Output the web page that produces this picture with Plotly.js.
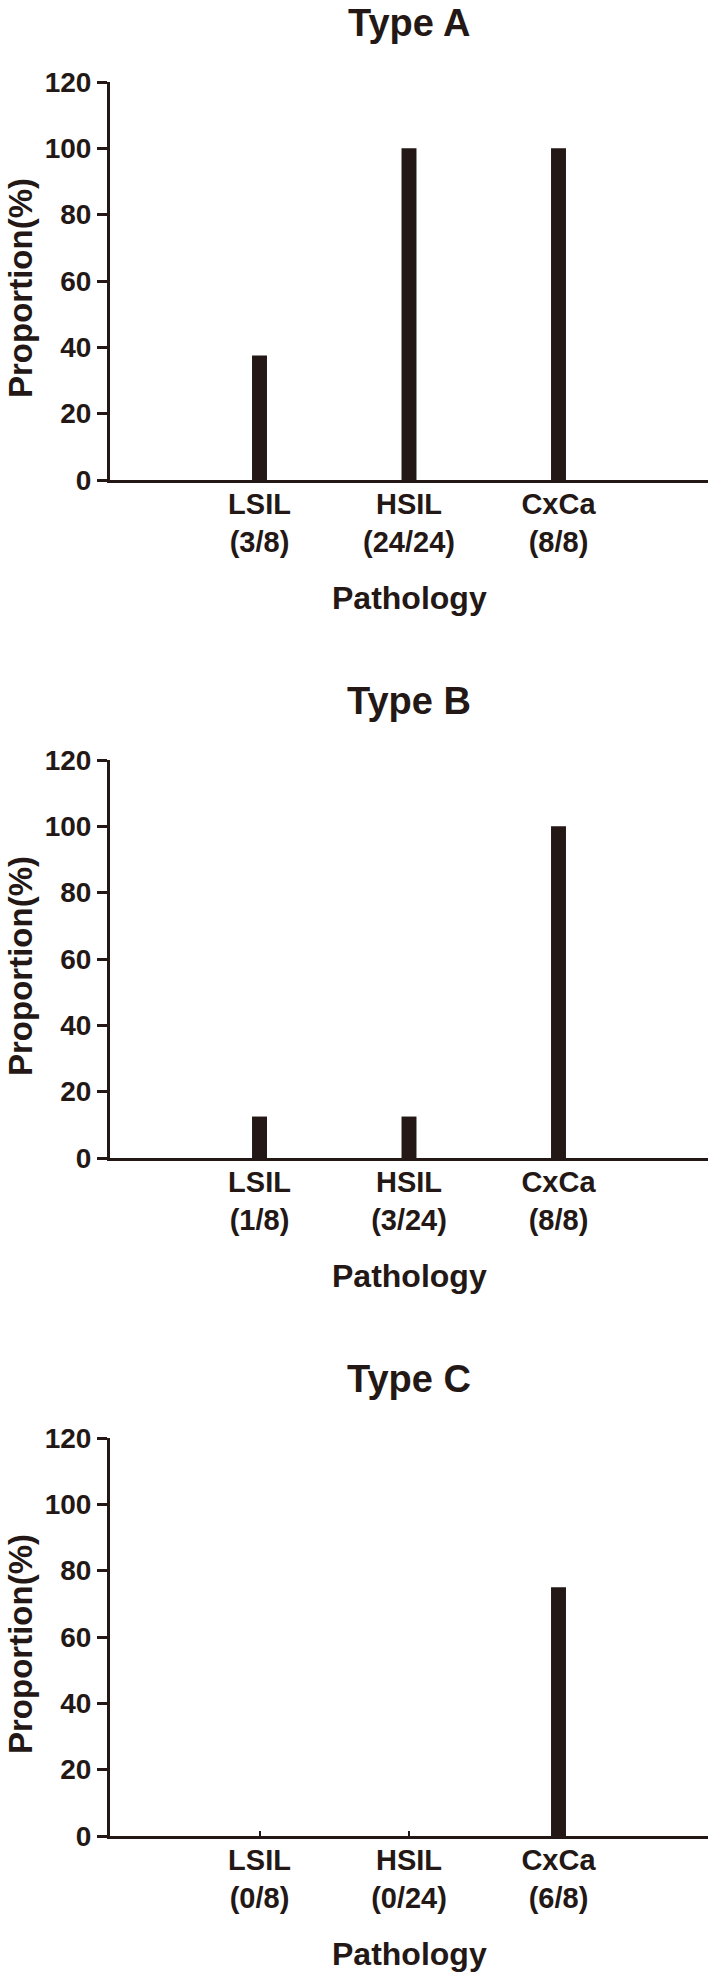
<!DOCTYPE html>
<html>
<head>
<meta charset="utf-8">
<script src="https://cdn.plot.ly/plotly-3.0.1.min.js"></script>
<style>html,body{margin:0;padding:0;background:#fff;}#chart{width:715px;height:1979px;}</style>
</head>
<body>
<div id="chart"></div>
<script>
// ---- data ----
const categories = ['LSIL', 'HSIL', 'CxCa'];
const panelTitles = ['Type A', 'Type B', 'Type C'];
const countsA = ['3/8', '24/24', '8/8'];
const countsB = ['1/8', '3/24', '8/8'];
const countsC = ['0/8', '0/24', '6/8'];
const valuesA = [37.5, 100, 100];
const valuesB = [12.5, 12.5, 100];
const valuesC = [0, 0, 75];
const yTickVals = [0, 20, 40, 60, 80, 100, 120];

const counts = [countsA, countsB, countsC];
const values = [valuesA, valuesB, valuesC];

// ---- layout geometry (pixels) ----
const W = 715, H = 1979;
const panelTops = [82, 760, 1438];
const plotH = 398;
const plotLeft = 110, plotRight = 708;
const ink = '#231815';
const fam = '"Liberation Sans", Arial, sans-serif';

function py(p) { return 1 - p / H; }

const traces = [];
const layout = {
  width: W, height: H,
  margin: {l: 0, r: 0, t: 0, b: 0},
  paper_bgcolor: '#fff', plot_bgcolor: '#fff',
  showlegend: false,
  font: {family: fam, color: ink},
  annotations: []
};

for (let i = 0; i < 3; i++) {
  const sfx = i === 0 ? '' : String(i + 1);
  const top = panelTops[i];
  traces.push({
    type: 'bar',
    x: categories,
    y: values[i],
    width: 0.1,
    marker: {color: ink, line: {width: 0}},
    xaxis: 'x' + sfx,
    yaxis: 'y' + sfx,
    hoverinfo: 'x+y'
  });
  layout['xaxis' + sfx] = {
    domain: [plotLeft / W, plotRight / W],
    anchor: 'y' + sfx,
    type: 'category',
    range: [-1, 3],
    tickmode: 'array',
    tickvals: categories,
    ticktext: categories.map((c, k) => c + '<br>(' + counts[i][k] + ')'),
    showline: true, linewidth: 3, linecolor: ink,
    ticks: 'inside', ticklen: 5, tickwidth: 2, tickcolor: ink,
    ticklabelstandoff: -4,
    showgrid: false, zeroline: false,
    tickfont: {family: fam, size: 29, color: ink, weight: 'bold'},
    fixedrange: true
  };
  layout['yaxis' + sfx] = {
    domain: [py(top + plotH), py(top)],
    anchor: 'x' + sfx,
    range: [0, 120],
    tickmode: 'array',
    tickvals: yTickVals,
    ticktext: yTickVals.map(String),
    showline: true, linewidth: 3, linecolor: ink,
    ticks: 'outside', ticklen: 10, tickwidth: 3, tickcolor: ink,
    showgrid: false, zeroline: false,
    tickfont: {family: fam, size: 28, color: ink, weight: 'bold'},
    fixedrange: true
  };
  // panel title
  layout.annotations.push({
    text: panelTitles[i], xref: 'paper', yref: 'paper',
    x: (plotLeft + plotRight) / 2 / W, y: py(top - 82),
    xanchor: 'center', yanchor: 'top', showarrow: false,
    font: {family: fam, size: 38, color: ink, weight: 'bold'}
  });
  // x axis title
  layout.annotations.push({
    text: 'Pathology', xref: 'paper', yref: 'paper',
    x: (plotLeft + plotRight) / 2 / W, y: py(top + plotH + 118),
    xanchor: 'center', yanchor: 'middle', showarrow: false,
    font: {family: fam, size: 32, color: ink, weight: 'bold'}
  });
  // y axis title
  layout.annotations.push({
    text: 'Proportion(%)', xref: 'paper', yref: 'paper',
    x: 20 / W, y: py(top + 206),
    xanchor: 'center', yanchor: 'middle', showarrow: false, textangle: -90,
    font: {family: fam, size: 33, color: ink, weight: 'bold'}
  });
}

Plotly.newPlot('chart', traces, layout, {displayModeBar: false, staticPlot: true});
</script>
</body>
</html>
